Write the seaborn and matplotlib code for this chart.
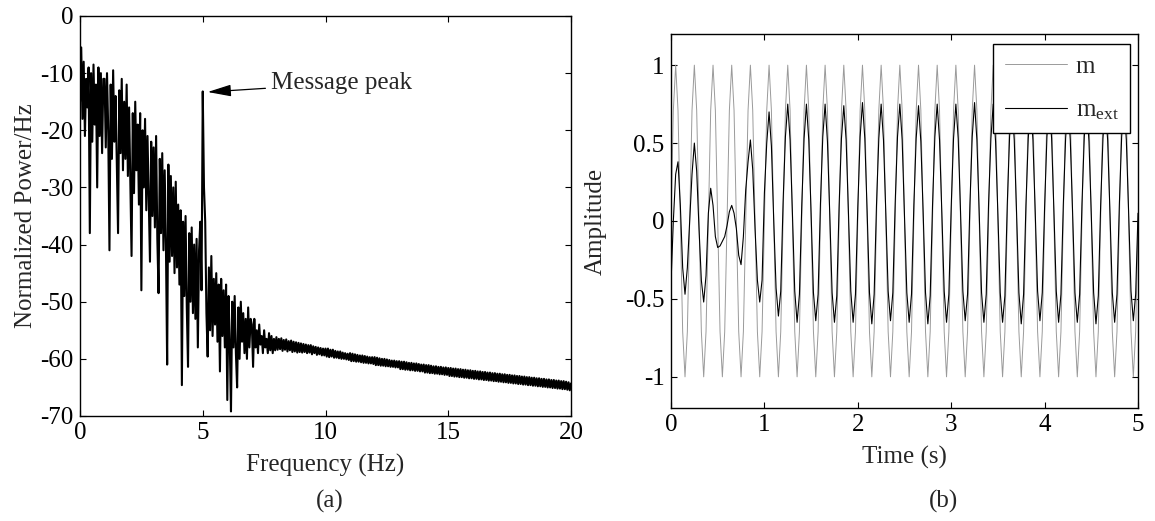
import numpy as np
import pandas as pd
import matplotlib
matplotlib.use("Agg")
import matplotlib.pyplot as plt
import seaborn as sns

# ---------------- data: panel (a) normalized power spectrum, 0..20 Hz (0.05 Hz grid)
power_db = [
    # 0 - 0.95 Hz
    -15, -5.5, -18, -8, -21, -11, -16, -9, -38, -10, -22, -8.5, -19, -12, -30, -9, -21, -10, -24, -11,
    # 1 - 1.95 Hz
    -11, -23, -10, -20, -41, -12, -25, -9.5, -22, -14, -26, -38, -13, -24, -11, -27, -15, -25, -12, -28,
    # 2 - 2.95 Hz
    -16, -29, -42, -17, -31, -15, -27, -19, -33, -17, -48, -20, -30, -18, -34, -21, -32, -43, -22, -35,
    # 3 - 3.95 Hz
    -23, -37, -21, -39, -48.5, -25, -38, -24, -41, -27, -40, -61, -26, -43, -28, -42, -30, -45, -29, -44,
    # 4 - 4.95 Hz
    -33, -47, -34, -64.6, -36, -49, -35, -51, -61.4, -38, -50, -37, -52, -40, -53, -39, -58, -41, -36, -48,
    # 5 - 5.95 Hz (message peak at 5 Hz)
    -13.2, -30, -36, -52, -59.6, -44, -55, -42, -56, -46, -54, -45, -57, -47, -62.2, -46, -56, -48, -58, -47,
    # 6 - 6.95 Hz
    -67.2, -49, -57, -69.2, -50, -58, -49, -59, -65, -51, -60, -50, -57, -52, -59, -53, -60, -51, -58, -53,
    # 7 - 7.95 Hz
    -54, -61.4, -53, -58, -55, -59, -54, -57.5, -56, -59, -55, -58, -56.5, -59, -55.5, -58.5, -56, -59, -56.5, -58.5,
    # 8 - 8.95 Hz
    -56.2, -58.4, -56.5, -58.3, -56.4, -58.6, -56.7, -58.4, -56.6, -58.7, -56.9, -58.5, -56.8, -58.8, -57.0, -58.7, -57.1, -58.9, -57.2, -58.8,
    # 9 - 9.95 Hz
    -57.3, -58.9, -57.4, -58.8, -57.5, -59.0, -57.6, -58.9, -57.6, -59.2, -57.8, -59.0, -57.9, -59.3, -58.0, -59.2, -58.1, -59.4, -58.2, -59.4,
    # 10 - 10.95 Hz
    -58.2, -59.6, -58.2, -59.7, -58.4, -59.6, -58.4, -59.8, -58.6, -59.8, -58.7, -59.9, -58.7, -60.0, -58.9, -60.0, -59.0, -60.1, -59.1, -60.2,
    # 11 - 11.95 Hz
    -59.0, -60.4, -59.1, -60.4, -59.2, -60.5, -59.3, -60.5, -59.4, -60.6, -59.4, -60.7, -59.5, -60.7, -59.6, -60.8, -59.7, -60.8, -59.7, -60.9,
    # 12 - 12.95 Hz
    -59.7, -61.1, -59.8, -61.1, -59.9, -61.2, -60.0, -61.2, -60.0, -61.3, -60.1, -61.3, -60.2, -61.4, -60.3, -61.4, -60.3, -61.5, -60.4, -61.5,
    # 13 - 13.95 Hz
    -60.4, -61.8, -60.5, -61.8, -60.5, -61.9, -60.6, -61.9, -60.7, -62.0, -60.7, -62.0, -60.8, -62.1, -60.8, -62.1, -60.9, -62.2, -61.0, -62.2,
    # 14 - 14.95 Hz
    -61.0, -62.4, -61.1, -62.4, -61.1, -62.5, -61.2, -62.5, -61.3, -62.6, -61.3, -62.6, -61.4, -62.7, -61.4, -62.7, -61.5, -62.8, -61.5, -62.8,
    # 15 - 15.95 Hz
    -61.6, -63.0, -61.6, -63.0, -61.7, -63.1, -61.7, -63.1, -61.8, -63.2, -61.8, -63.2, -61.9, -63.3, -61.9, -63.3, -62.0, -63.4, -62.0, -63.4,
    # 16 - 16.95 Hz
    -62.1, -63.5, -62.1, -63.5, -62.2, -63.6, -62.2, -63.6, -62.3, -63.7, -62.3, -63.7, -62.4, -63.8, -62.4, -63.8, -62.5, -63.9, -62.5, -63.9,
    # 17 - 17.95 Hz
    -62.6, -64.0, -62.6, -64.0, -62.7, -64.1, -62.7, -64.1, -62.8, -64.2, -62.8, -64.2, -62.9, -64.3, -62.9, -64.3, -63.0, -64.4, -63.0, -64.4,
    # 18 - 18.95 Hz
    -63.1, -64.5, -63.1, -64.5, -63.2, -64.6, -63.2, -64.6, -63.3, -64.7, -63.3, -64.7, -63.4, -64.8, -63.4, -64.8, -63.5, -64.9, -63.5, -64.9,
    # 19 - 19.95 Hz
    -63.6, -65.0, -63.6, -65.0, -63.7, -65.1, -63.7, -65.1, -63.8, -65.2, -63.8, -65.2, -63.9, -65.3, -63.9, -65.3, -64.0, -65.4, -64.1, -65.5,
    # 20 Hz
    -64.3,
]
freq_range_hz = [0, 20]
power_ticks = [-70, -60, -50, -40, -30, -20, -10, 0]
power_tick_labels = ["-70", "-60", "-50", "-40", "-30", "-20", "-10", "0"]
freq_ticks = [0, 5, 10, 15, 20]
freq_tick_labels = ["0", "5", "10", "15", "20"]
peak_label = "Message peak"
peak_point = [5.2, -13.3]
peak_label_at = [7.8, -11.8]

# ---------------- data: panel (b) time signals, 0..5 s (0.025 s grid)
time_range_s = [0, 5]
m_signal = [
    0, 0.71, 1, 0.71, 0, -0.71, -1, -0.71,
    0, 0.71, 1, 0.71, 0, -0.71, -1, -0.71,
    0, 0.71, 1, 0.71, 0, -0.71, -1, -0.71,
    0, 0.71, 1, 0.71, 0, -0.71, -1, -0.71,
    0, 0.71, 1, 0.71, 0, -0.71, -1, -0.71,
    0, 0.71, 1, 0.71, 0, -0.71, -1, -0.71,
    0, 0.71, 1, 0.71, 0, -0.71, -1, -0.71,
    0, 0.71, 1, 0.71, 0, -0.71, -1, -0.71,
    0, 0.71, 1, 0.71, 0, -0.71, -1, -0.71,
    0, 0.71, 1, 0.71, 0, -0.71, -1, -0.71,
    0, 0.71, 1, 0.71, 0, -0.71, -1, -0.71,
    0, 0.71, 1, 0.71, 0, -0.71, -1, -0.71,
    0, 0.71, 1, 0.71, 0, -0.71, -1, -0.71,
    0, 0.71, 1, 0.71, 0, -0.71, -1, -0.71,
    0, 0.71, 1, 0.71, 0, -0.71, -1, -0.71,
    0, 0.71, 1, 0.71, 0, -0.71, -1, -0.71,
    0, 0.71, 1, 0.71, 0, -0.71, -1, -0.71,
    0, 0.71, 1, 0.71, 0, -0.71, -1, -0.71,
    0, 0.71, 1, 0.71, 0, -0.71, -1, -0.71,
    0, 0.71, 1, 0.71, 0, -0.71, -1, -0.71,
    0, 0.71, 1, 0.71, 0, -0.71, -1, -0.71,
    0, 0.71, 1, 0.71, 0, -0.71, -1, -0.71,
    0, 0.71, 1, 0.71, 0, -0.71, -1, -0.71,
    0, 0.71, 1, 0.71, 0, -0.71, -1, -0.71,
    0, 0.71, 1, 0.71, 0, -0.71, -1, -0.71,
    0,
]
m_ext_signal = [
    -0.40, 0.00, 0.30, 0.38, 0.10, -0.30, -0.47, -0.30,
    0.00, 0.30, 0.50, 0.32, -0.05, -0.38, -0.52, -0.35,
    0.05, 0.21, 0.10, -0.10, -0.17, -0.16, -0.13, -0.10,
    -0.03, 0.06, 0.10, 0.05, -0.05, -0.22, -0.28, -0.10,
    0.20, 0.38, 0.52, 0.33, -0.05, -0.38, -0.52, -0.38,
    0.18, 0.50, 0.70, 0.48, 0.00, -0.43, -0.61, -0.45,
    0.12, 0.54, 0.75, 0.52, 0.05, -0.45, -0.65, -0.47,
    0.10, 0.53, 0.75, 0.52, 0.05, -0.46, -0.64, -0.47,
    0.11, 0.54, 0.75, 0.51, 0.04, -0.46, -0.65, -0.48,
    0.10, 0.53, 0.74, 0.52, 0.05, -0.45, -0.65, -0.47,
    0.09, 0.54, 0.76, 0.53, 0.06, -0.46, -0.66, -0.47,
    0.10, 0.53, 0.75, 0.52, 0.05, -0.45, -0.64, -0.46,
    0.11, 0.54, 0.75, 0.52, 0.04, -0.46, -0.65, -0.47,
    0.10, 0.53, 0.74, 0.51, 0.05, -0.46, -0.66, -0.48,
    0.10, 0.54, 0.75, 0.52, 0.05, -0.45, -0.65, -0.47,
    0.09, 0.53, 0.75, 0.53, 0.06, -0.45, -0.64, -0.47,
    0.10, 0.54, 0.76, 0.52, 0.05, -0.46, -0.65, -0.47,
    0.11, 0.53, 0.75, 0.51, 0.04, -0.46, -0.65, -0.48,
    0.10, 0.54, 0.74, 0.52, 0.05, -0.46, -0.66, -0.47,
    0.10, 0.53, 0.75, 0.52, 0.05, -0.45, -0.64, -0.46,
    0.09, 0.54, 0.75, 0.53, 0.06, -0.45, -0.65, -0.47,
    0.10, 0.53, 0.76, 0.52, 0.05, -0.46, -0.65, -0.47,
    0.11, 0.54, 0.75, 0.51, 0.04, -0.46, -0.66, -0.48,
    0.10, 0.53, 0.74, 0.52, 0.05, -0.46, -0.65, -0.47,
    0.10, 0.54, 0.75, 0.52, 0.05, -0.45, -0.64, -0.47,
    0.05,
]
series_names = ["m", r"m$_{\mathrm{ext}}$"]
amp_ticks = [-1, -0.5, 0, 0.5, 1]
amp_tick_labels = ["-1", "-0.5", "0", "0.5", "1"]
time_ticks = [0, 1, 2, 3, 4, 5]
time_tick_labels = ["0", "1", "2", "3", "4", "5"]

# ---------------- style
sns.set_theme(style="ticks")
plt.rcParams["font.family"] = ["Liberation Serif", "DejaVu Serif"]
plt.rcParams["font.size"] = 18
plt.rcParams["mathtext.fontset"] = "custom"
plt.rcParams["mathtext.rm"] = "Liberation Serif"
plt.rcParams["mathtext.it"] = "Liberation Serif:italic"
plt.rcParams["axes.unicode_minus"] = False
plt.rcParams["axes.edgecolor"] = "black"
plt.rcParams["axes.linewidth"] = 1.0

fig = plt.figure(figsize=(11.55, 5.21), dpi=100)
ax1 = fig.add_axes([80 / 1155, 1 - 416 / 521, 491 / 1155, 400 / 521])
ax2 = fig.add_axes([671 / 1155, 1 - 408 / 521, 467 / 1155, 374 / 521])

# ---------------- panel (a)
freq = np.linspace(freq_range_hz[0], freq_range_hz[1], len(power_db))
spec = pd.DataFrame({"freq": freq, "power": power_db})
sns.lineplot(data=spec, x="freq", y="power", ax=ax1, color="black",
             lw=1.5, estimator=None, sort=False)
ax1.set_xlim(freq_range_hz)
ax1.set_ylim(power_ticks[0], power_ticks[-1])
ax1.set_xticks(freq_ticks)
ax1.set_xticklabels(freq_tick_labels)
ax1.set_yticks(power_ticks)
ax1.set_yticklabels(power_tick_labels)
ax1.set_xlabel("Frequency (Hz)", fontsize=18)
ax1.set_ylabel("Normalized Power/Hz", fontsize=18)
ax1.xaxis.set_label_coords(0.5, -0.095)
ax1.yaxis.set_label_coords(-0.0866, 0.5)
ax1.annotate(peak_label, xy=(peak_point[0], peak_point[1]),
             xytext=(peak_label_at[0], peak_label_at[1]),
             ha="left", va="center", fontsize=18,
             arrowprops=dict(arrowstyle="-|>,head_length=0.8,head_width=0.2",
                             color="black", lw=0.9, shrinkA=2, shrinkB=0))

# ---------------- panel (b)
t = np.linspace(time_range_s[0], time_range_s[1], len(m_signal))
sig = pd.DataFrame({"t": t, "m": m_signal, "m_ext": m_ext_signal})
sns.lineplot(data=sig, x="t", y="m", ax=ax2, color="#9a9a9a", lw=0.7,
             estimator=None, sort=False)
sns.lineplot(data=sig, x="t", y="m_ext", ax=ax2, color="black", lw=0.8,
             estimator=None, sort=False)
ax2.set_xlim(time_range_s)
ax2.set_ylim(-1.2, 1.2)
ax2.set_xticks(time_ticks)
ax2.set_xticklabels(time_tick_labels)
ax2.set_yticks(amp_ticks)
ax2.set_yticklabels(amp_tick_labels)
ax2.set_xlabel("Time (s)", fontsize=18)
ax2.set_ylabel("Amplitude", fontsize=18)
ax2.xaxis.set_label_coords(0.5, -0.1016)
ax2.yaxis.set_label_coords(-0.137, 0.5)
lines = ax2.get_lines()
leg = ax2.legend(handles=[lines[0], lines[1]], labels=series_names,
                 loc="upper right", bbox_to_anchor=(0.983, 0.973),
                 borderaxespad=0, frameon=True, fancybox=False, shadow=False,
                 edgecolor="black", framealpha=1, fontsize=18,
                 handlelength=2.5, handletextpad=0.35, labelspacing=0.85,
                 borderpad=0.45)
leg.get_frame().set_linewidth(1.0)

for ax in (ax1, ax2):
    ax.tick_params(direction="in", length=4, width=0.8, top=True, right=True,
                   labelsize=18, colors="black")
    ax.tick_params(axis="y", pad=4.5)
    ax.tick_params(axis="x", pad=4.5)
    for s in ax.spines.values():
        s.set_visible(True)
        s.set_color("black")
        s.set_linewidth(1.0)

fig.text(329.5 / 1155, 1 - 501 / 521, "(a)", ha="center", va="center", fontsize=18)
fig.text(944 / 1155, 1 - 501 / 521, "(b)", ha="center", va="center", fontsize=18)

fig.savefig("out.png", dpi=100, facecolor="white")
